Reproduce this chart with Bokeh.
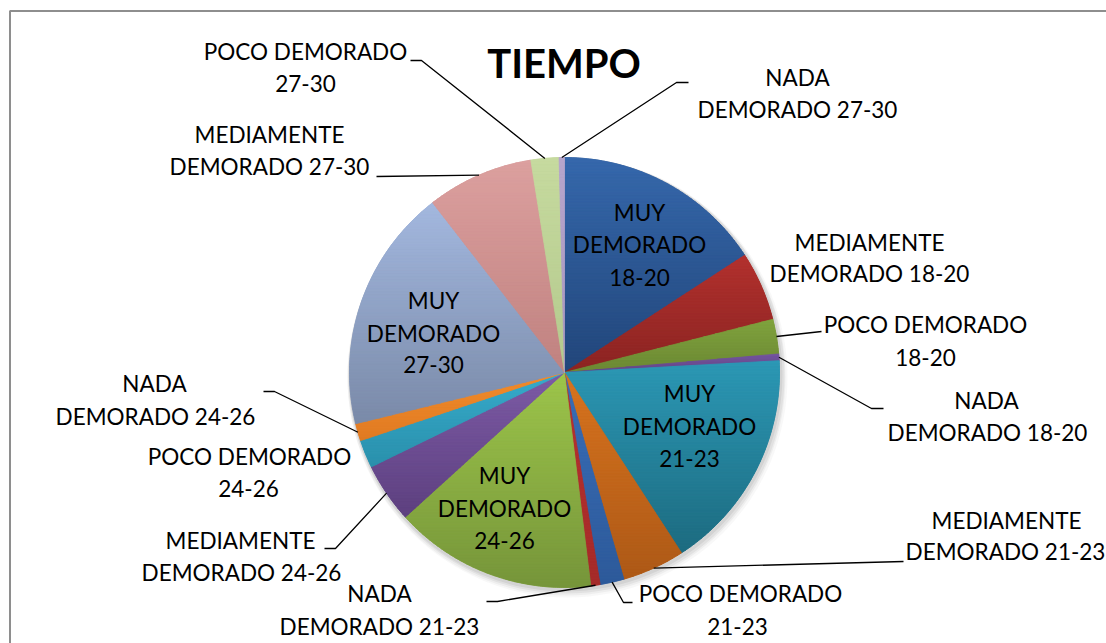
import numpy as np
from bokeh.plotting import figure
from bokeh.models import Range1d
from bokeh.core.properties import value
from bokeh.embed import file_html
from bokeh.resources import INLINE

# ---------------- data ----------------
categories = [
    "MUY DEMORADO 18-20", "MEDIAMENTE DEMORADO 18-20", "POCO DEMORADO 18-20", "NADA DEMORADO 18-20",
    "MUY DEMORADO 21-23", "MEDIAMENTE DEMORADO 21-23", "POCO DEMORADO 21-23", "NADA DEMORADO 21-23",
    "MUY DEMORADO 24-26", "MEDIAMENTE DEMORADO 24-26", "POCO DEMORADO 24-26", "NADA DEMORADO 24-26",
    "MUY DEMORADO 27-30", "MEDIAMENTE DEMORADO 27-30", "POCO DEMORADO 27-30", "NADA DEMORADO 27-30",
]
values = [15.8, 5.2, 2.6, 0.5, 16.7, 4.7, 1.8, 0.7, 15.2, 4.5, 2.1, 1.3, 18.3, 8.0, 2.1, 0.4]

colors_top = ["#3668AC", "#B3312E", "#80A33E", "#7454A0",
              "#2C98B5", "#D8741F", "#3A6EB8", "#B83230",
              "#9DC54B", "#7D5BA6", "#37ABCB", "#F28C2C",
              "#A3B8DF", "#DCA09F", "#C6DA9F", "#B6A5CC"]
colors_bottom = ["#22467A", "#8A2422", "#6B8833", "#634585",
                 "#1D6B80", "#AD5917", "#2D5A9A", "#A52B29",
                 "#76953A", "#5D407F", "#2A90AC", "#E07A22",
                 "#7A8AA8", "#C08280", "#B4C98D", "#A897BF"]

title_text = "TIEMPO"

# ---------------- layout (screen px) ----------------
CX, CY, R = 564, 372, 215
# label line texts and positions: (lines, x per line, y per line)
label_layout = [
    (["MUY", "DEMORADO", "18-20"], [639, 639, 639], [212, 244, 277]),
    (["MEDIAMENTE", "DEMORADO 18-20"], [869, 869], [242, 273]),
    (["POCO DEMORADO", "18-20"], [925, 925], [324, 357]),
    (["NADA", "DEMORADO 18-20"], [986, 987], [400, 432]),
    (["MUY", "DEMORADO", "21-23"], [689, 689, 689], [393, 426, 458]),
    (["MEDIAMENTE", "DEMORADO 21-23"], [1006, 1005], [520, 551]),
    (["POCO DEMORADO", "21-23"], [740, 737], [593, 626]),
    (["NADA", "DEMORADO 21-23"], [379, 379], [593, 626]),
    (["MUY", "DEMORADO", "24-26"], [504, 504, 504], [475, 508, 540]),
    (["MEDIAMENTE", "DEMORADO 24-26"], [240, 241], [540, 572]),
    (["POCO DEMORADO", "24-26"], [249, 248], [456, 488]),
    (["NADA", "DEMORADO 24-26"], [154, 155], [383, 416]),
    (["MUY", "DEMORADO", "27-30"], [433, 433, 433], [300, 333, 364]),
    (["MEDIAMENTE", "DEMORADO 27-30"], [269, 269], [134, 166]),
    (["POCO DEMORADO", "27-30"], [305, 305], [51, 83]),
    (["NADA", "DEMORADO 27-30"], [797, 797], [77, 109]),
]
# leader elbows (screen px), ending at the slice edge (computed)
leader_layout = {
    2: [(821, 331)],
    3: [(883, 408), (871, 408)],
    5: [(903, 561)],
    6: [(632, 602), (623, 602)],
    7: [(486, 601), (497, 601)],
    9: [(324, 548), (335, 548)],
    11: [(263, 391), (274, 391)],
    13: [(376, 176)],
    14: [(410, 60), (421, 60)],
    15: [(688, 82), (676, 82)],
}

W, H = 1106, 643
p = figure(width=W, height=H, output_backend="svg", toolbar_location=None,
           x_range=Range1d(0, W), y_range=Range1d(-H, 0),
           x_axis_type=None, y_axis_type=None, min_border=0)
p.grid.visible = False
p.outline_line_color = None
p.background_fill_color = "white"
p.border_fill_color = "white"

# chart frame (gray border, cropped at right/bottom)
p.line([9.5, 9.5, 1300], [-800, -10.5, -10.5], line_color="#8E8E8E", line_width=2)

# soft shadow
for dx, dy, rr, a in [(1, 2, 217, 0.10), (2, 3, 218, 0.08), (2, 4, 219, 0.06), (3, 5, 220, 0.04)]:
    p.circle(x=[CX + dx], y=[-(CY + dy)], radius=rr, fill_color="#555555", fill_alpha=a,
             line_color=None)

total = float(sum(values))
fr = np.array(values) / total
cum = np.concatenate([[0], np.cumsum(fr)]) * 360.0  # clockwise from top, degrees


def hex2rgb(h):
    h = h.lstrip("#")
    return np.array([int(h[i:i + 2], 16) for i in (0, 2, 4)], dtype=float)


def rgb2hex(c):
    c = np.clip(np.round(c), 0, 255).astype(int)
    return "#%02x%02x%02x" % tuple(c)


def clip_half(pts, y0, keep_above):
    out = []
    n = len(pts)
    for i in range(n):
        a = pts[i]
        b = pts[(i + 1) % n]
        ain = a[1] >= y0 if keep_above else a[1] <= y0
        bin_ = b[1] >= y0 if keep_above else b[1] <= y0
        if ain:
            out.append(a)
        if ain != bin_:
            t = (y0 - a[1]) / (b[1] - a[1])
            out.append((a[0] + t * (b[0] - a[0]), y0))
    return out


# base wedges (mid color), drawn through bokeh's wedge glyph
start_angles = [np.pi / 2 - np.radians(cum[i + 1]) for i in range(len(values))]
end_angles = [np.pi / 2 - np.radians(cum[i]) for i in range(len(values))]
mid_colors = [rgb2hex((hex2rgb(t) + hex2rgb(b)) / 2) for t, b in zip(colors_top, colors_bottom)]
p.wedge(x=[CX] * len(values), y=[-CY] * len(values), radius=R,
        start_angle=start_angles, end_angle=end_angles, direction="anticlock",
        fill_color=mid_colors, line_color=mid_colors, line_width=0.5)

# vertical gradient per slice, built from bands
band_xs, band_ys, band_cols = [], [], []
for i in range(len(values)):
    a0, a1 = cum[i], cum[i + 1]
    n = max(4, int((a1 - a0) * 2))
    angs = np.radians(np.linspace(a0, a1, n))
    poly = [(CX, -CY)] + [(CX + R * np.sin(t), -CY + R * np.cos(t)) for t in angs]
    ys_all = [q[1] for q in poly]
    ytop, ybot = max(ys_all), min(ys_all)
    ct, cb = hex2rgb(colors_top[i]), hex2rgb(colors_bottom[i])
    step = 3.0
    nb = max(1, int(np.ceil((ytop - ybot) / step)))
    edges = np.linspace(ytop, ybot, nb + 1)
    for k in range(nb):
        yh, yl = edges[k], edges[k + 1]
        part = clip_half(poly, yl, True)
        if len(part) < 3:
            continue
        part = clip_half(part, yh, False)
        if len(part) < 3:
            continue
        f = ((k + 0.5) / nb)
        col = rgb2hex(ct + (cb - ct) * f)
        band_xs.append([q[0] for q in part])
        band_ys.append([q[1] for q in part])
        band_cols.append(col)

p.patches(xs=band_xs, ys=band_ys, fill_color=band_cols, line_color=band_cols, line_width=0.8)

# leader lines
for idx, pts in leader_layout.items():
    mid = np.radians((cum[idx] + cum[idx + 1]) / 2)
    ax = CX + R * np.sin(mid)
    ay = CY - R * np.cos(mid)
    xs = [q[0] for q in pts] + [ax]
    ys = [-q[1] for q in pts] + [-ay]
    p.line(xs, ys, line_color="black", line_width=1.3)

# labels
tx, ty, tt = [], [], []
for lines, xs, ys in label_layout:
    for s, x, y in zip(lines, xs, ys):
        tx.append(x)
        ty.append(-y)
        tt.append(s)
p.text(x=tx, y=ty, text=tt, text_align="center", text_baseline="middle",
       text_font=value("Lato"), text_font_size="22.5px", text_color="black")

# title
p.text(x=[563.5], y=[-62], text=[title_text], text_align="center", text_baseline="middle",
       text_font=value("Lato"), text_font_size="40px", text_font_style="bold", text_color="black")

open("out.html", "w").write(file_html(p, INLINE))
